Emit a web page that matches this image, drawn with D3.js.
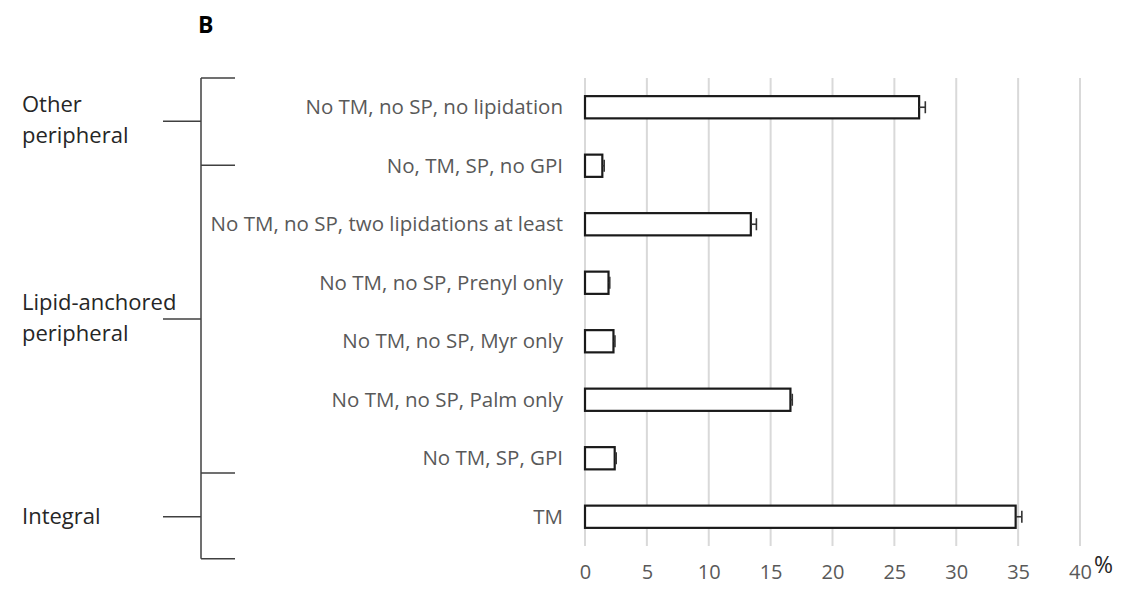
<!DOCTYPE html>
<html>
  <head>
    <meta charset="utf-8">
    <style>
      body { margin: 0; background: #fff; }
      svg { display: block; font-family: 'Open Sans', sans-serif; }
    </style>
  </head>

  <body>
    <div id='graph'></div>

    <script src="https://cdn.jsdelivr.net/npm/d3@7"></script>
    <script>

    // categories, top to bottom
    var categories = [
      'No TM, no SP, no lipidation',
      'No, TM, SP, no GPI',
      'No TM, no SP, two lipidations at least',
      'No TM, no SP, Prenyl only',
      'No TM, no SP, Myr only',
      'No TM, no SP, Palm only',
      'No TM, SP, GPI',
      'TM'
    ];

    // percentages and error
    var values = [27.0, 1.4, 13.4, 1.9, 2.3, 16.6, 2.4, 34.8];
    var errors = [0.5, 0.15, 0.45, 0.1, 0.12, 0.15, 0.12, 0.5];

    var xTicks = [0, 5, 10, 15, 20, 25, 30, 35, 40];

    // bracket groups: label lines, where the label tick sits and the break lines (in band steps)
    var groupNames = [['Other', 'peripheral'], ['Lipid-anchored', 'peripheral'], ['Integral']];
    var groupTicks = [0.74, 4.12, 7.5];
    var groupBreaks = [0, 1.49, 6.75, 8.22];

    var width = 1134, height = 590;

    var svg = d3.select('#graph')
                .append('svg')
                .attr('width', width)
                .attr('height', height);

    var x = d3.scaleLinear()
              .domain([0, 40])
              .range([585, 1080]);

    var y = d3.scaleBand()
              .domain(categories)
              .range([78, 546])
              .paddingInner(0.62)
              .paddingOuter(0.31);

    var step = y.step();
    var yTop = y.range()[0];
    function atStep(t) { return yTop + t * step; }

    // gridlines
    svg.append('g')
       .selectAll('line')
       .data(xTicks)
       .enter()
       .append('line')
       .attr('x1', function(d) { return x(d); })
       .attr('x2', function(d) { return x(d); })
       .attr('y1', y.range()[0])
       .attr('y2', y.range()[1])
       .style('stroke', '#d9d9d9')
       .style('stroke-width', 2);

    // x axis tick labels
    var xAxis = d3.axisBottom(x).tickValues(xTicks).tickSize(0).tickPadding(0);
    var gx = svg.append('g')
                .attr('transform', 'translate(0,' + 565 + ')')
                .call(xAxis);
    gx.select('.domain').remove();
    gx.selectAll('text')
      .attr('dy', '0.71em')
      .style('font-family', "'Open Sans', sans-serif")
      .style('font-size', '20px')
      .style('fill', '#595959');

    svg.append('text')
       .attr('x', 1094)
       .attr('y', 573)
       .style('font-size', '23px')
       .style('fill', '#262626')
       .text('%');

    // category labels
    svg.append('g')
       .selectAll('text')
       .data(categories)
       .enter()
       .append('text')
       .attr('x', 563)
       .attr('y', function(d) { return y(d) + y.bandwidth() / 2; })
       .attr('dy', '0.35em')
       .attr('text-anchor', 'end')
       .style('font-size', '20.5px')
       .style('fill', '#595959')
       .text(function(d) { return d; });

    // bars
    svg.append('g')
       .selectAll('rect')
       .data(values)
       .enter()
       .append('rect')
       .attr('x', x(0))
       .attr('y', function(d, i) { return y(categories[i]); })
       .attr('width', function(d) { return x(d) - x(0); })
       .attr('height', y.bandwidth())
       .style('fill', '#fff')
       .style('stroke', '#1a1a1a')
       .style('stroke-width', 2.2);

    // error bars (plus side only shows)
    var eb = svg.append('g')
                .selectAll('g')
                .data(values)
                .enter()
                .append('g')
                .attr('transform', function(d, i) {
                  return 'translate(0,' + (y(categories[i]) + y.bandwidth() / 2) + ')';
                });
    eb.append('line')
      .attr('x1', function(d) { return x(d); })
      .attr('x2', function(d, i) { return x(d + errors[i]); })
      .style('stroke', '#333')
      .style('stroke-width', 1.6);
    eb.append('line')
      .attr('x1', function(d, i) { return x(d + errors[i]); })
      .attr('x2', function(d, i) { return x(d + errors[i]); })
      .attr('y1', -6)
      .attr('y2', 6)
      .style('stroke', '#333')
      .style('stroke-width', 1.6);

    // bracket on the left
    var bx = 201;
    var br = svg.append('g').style('stroke', '#404040').style('stroke-width', 1.5);
    br.append('line')
      .attr('x1', bx).attr('x2', bx)
      .attr('y1', atStep(groupBreaks[0]))
      .attr('y2', atStep(groupBreaks[groupBreaks.length - 1]));
    br.selectAll('.brk')
      .data(groupBreaks)
      .enter()
      .append('line')
      .attr('class', 'brk')
      .attr('x1', bx).attr('x2', bx + 34)
      .attr('y1', function(d) { return atStep(d); })
      .attr('y2', function(d) { return atStep(d); });
    br.selectAll('.gt')
      .data(groupTicks)
      .enter()
      .append('line')
      .attr('class', 'gt')
      .attr('x1', bx - 38).attr('x2', bx)
      .attr('y1', function(d) { return atStep(d); })
      .attr('y2', function(d) { return atStep(d); });

    // group labels
    var gl = svg.append('g')
                .selectAll('text')
                .data(groupNames)
                .enter()
                .append('text')
                .attr('x', 22)
                .attr('y', function(d, i) {
                  var c = atStep(groupTicks[i]);
                  return d.length > 1 ? c - 17 : c;
                })
                .style('font-size', '22px')
                .style('fill', '#262626');
    gl.selectAll('tspan')
      .data(function(d) { return d; })
      .enter()
      .append('tspan')
      .attr('x', 22)
      .attr('dy', function(d, i) { return i == 0 ? '0.35em' : 31; })
      .text(function(d) { return d; });

    // panel letter
    svg.append('text')
       .attr('x', 198)
       .attr('y', 33)
       .style('font-size', '23px')
       .style('font-weight', 'bold')
       .style('fill', '#000')
       .text('B');

    </script>

  </body>
</html>
